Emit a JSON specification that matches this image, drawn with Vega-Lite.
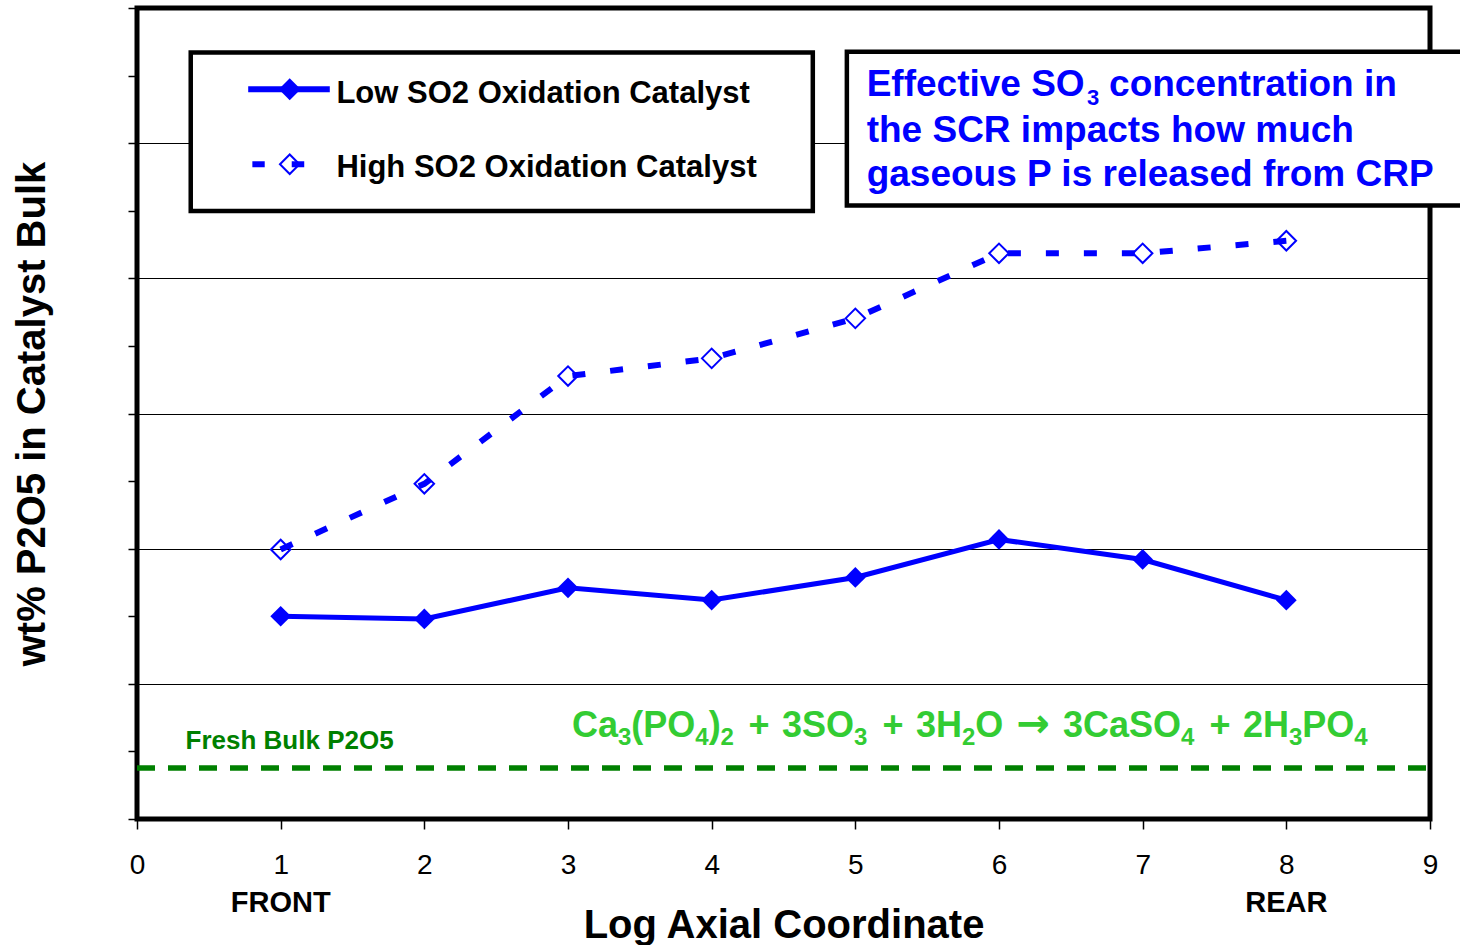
{
  "$schema": "https://vega.github.io/schema/vega-lite/v6.json",
  "width": 1293,
  "height": 811,
  "autosize": {"type": "none"},
  "padding": {"left": 137, "top": 8, "right": 30, "bottom": 126},
  "background": "white",
  "config": {
    "font": "Liberation Sans",
    "view": {"stroke": "black", "strokeWidth": 5}
  },
  "datasets": {
    "low": [
      {"x": 1, "y": 1.50}, {"x": 2, "y": 1.48}, {"x": 3, "y": 1.71}, {"x": 4, "y": 1.62},
      {"x": 5, "y": 1.787}, {"x": 6, "y": 2.068}, {"x": 7, "y": 1.92}, {"x": 8, "y": 1.619}
    ],
    "high": [
      {"x": 1, "y": 1.994}, {"x": 2, "y": 2.48}, {"x": 3, "y": 3.277}, {"x": 4, "y": 3.408},
      {"x": 5, "y": 3.704}, {"x": 6, "y": 4.185}, {"x": 7, "y": 4.185}, {"x": 8, "y": 4.278}
    ],
    "fresh": [{"x": 0, "x2": 9, "y": 0.377}],
    "boxes": [
      {"x": 0.374, "x2": 4.704, "y": 5.671, "y2": 4.498},
      {"x": 4.941, "x2": 9.3, "y": 5.677, "y2": 4.539}
    ],
    "legLow": [{"x": 0.774, "x2": 1.342, "y": 5.399}],
    "legHigh": [{"x": 0.803, "x2": 0.889, "y": 4.844}, {"x": 1.077, "x2": 1.164, "y": 4.844}],
    "legLowPt": [{"x": 1.063, "y": 5.399}],
    "legHighPt": [{"x": 1.063, "y": 4.844}],
    "legText": [
      {"x": 1.388, "y": 5.298, "text": "Low SO2 Oxidation Catalyst"},
      {"x": 1.388, "y": 4.752, "text": "High SO2 Oxidation Catalyst"}
    ],
    "note": [
      {"x": 5.079, "y": 5.352, "text": "Effective SO"},
      {"x": 6.766, "y": 5.352, "text": "concentration in"},
      {"x": 5.079, "y": 5.011, "text": "the SCR impacts how much"},
      {"x": 5.079, "y": 4.682, "text": "gaseous P is released from CRP"}
    ],
    "noteSub": [{"x": 6.613, "y": 5.285, "text": "3"}],
    "eqMain": [
      {"x": 3.028, "y": 0.609, "text": "Ca"},
      {"x": 3.441, "y": 0.609, "text": "(PO"},
      {"x": 3.979, "y": 0.609, "text": ")"},
      {"x": 4.256, "y": 0.609, "text": "+"},
      {"x": 4.490, "y": 0.609, "text": "3SO"},
      {"x": 5.189, "y": 0.609, "text": "+"},
      {"x": 5.422, "y": 0.609, "text": "3H"},
      {"x": 5.835, "y": 0.609, "text": "O"},
      {"x": 6.445, "y": 0.609, "text": "3CaSO"},
      {"x": 7.465, "y": 0.609, "text": "+"},
      {"x": 7.698, "y": 0.609, "text": "2H"},
      {"x": 8.111, "y": 0.609, "text": "PO"}
    ],
    "eqArrow": [{"x": 6.122, "y": 0.609, "text": "→"}],
    "eqSub": [
      {"x": 3.348, "y": 0.544, "text": "3"},
      {"x": 3.886, "y": 0.544, "text": "4"},
      {"x": 4.062, "y": 0.544, "text": "2"},
      {"x": 4.991, "y": 0.544, "text": "3"},
      {"x": 5.742, "y": 0.544, "text": "2"},
      {"x": 7.267, "y": 0.544, "text": "4"},
      {"x": 8.019, "y": 0.544, "text": "3"},
      {"x": 8.473, "y": 0.544, "text": "4"}
    ],
    "freshText": [{"x": 0.338, "y": 0.516, "text": "Fresh Bulk P2O5"}],
    "ends": [
      {"x": 1, "y": -0.688, "text": "FRONT"},
      {"x": 8, "y": -0.688, "text": "REAR"}
    ]
  },
  "encoding": {
    "x": {
      "field": "x", "type": "quantitative",
      "scale": {"domain": [0, 9], "nice": false, "zero": false},
      "axis": {
        "values": [0, 1, 2, 3, 4, 5, 6, 7, 8, 9],
        "domain": false, "grid": false,
        "ticks": true, "tickSize": 10, "tickColor": "black", "tickWidth": 1.5,
        "labelFontSize": 28, "labelColor": "black", "labelPadding": 22,
        "labelFlush": false, "labelOverlap": false,
        "title": "Log Axial Coordinate", "titleFontSize": 40, "titleFontWeight": "bold",
        "titleColor": "black", "titlePadding": 26
      }
    },
    "y": {
      "field": "y", "type": "quantitative",
      "scale": {"domain": [0, 6], "nice": false, "zero": false},
      "axis": {
        "values": [0, 0.5, 1, 1.5, 2, 2.5, 3, 3.5, 4, 4.5, 5, 5.5, 6],
        "labels": false, "domain": false,
        "ticks": true, "tickSize": 9, "tickColor": "black", "tickWidth": 1.5,
        "grid": true, "gridColor": "black", "gridWidth": 1,
        "gridOpacity": {"condition": {"test": "datum.value % 1 === 0 && datum.value > 0 && datum.value < 6", "value": 1}, "value": 0},
        "title": "wt% P2O5 in Catalyst Bulk", "titleFontSize": 40, "titleFontWeight": "bold",
        "titleColor": "black", "titlePadding": 75
      }
    }
  },
  "layer": [
    {
      "data": {"name": "fresh"},
      "mark": {"type": "rule", "color": "#008000", "strokeWidth": 5.5, "strokeDash": [18, 13]},
      "encoding": {"x2": {"field": "x2"}}
    },
    {
      "data": {"name": "high"},
      "mark": {"type": "line", "color": "#0000FF", "strokeWidth": 6, "strokeDash": [13, 25]},
      "encoding": {}
    },
    {
      "data": {"name": "low"},
      "mark": {"type": "line", "color": "#0000FF", "strokeWidth": 5},
      "encoding": {}
    },
    {
      "data": {"name": "high"},
      "mark": {"type": "point", "shape": "diamond", "filled": false, "color": "#0000FF", "strokeWidth": 2, "size": 380, "opacity": 1},
      "encoding": {}
    },
    {
      "data": {"name": "low"},
      "mark": {"type": "point", "shape": "diamond", "filled": true, "color": "#0000FF", "size": 430, "opacity": 1},
      "encoding": {}
    },
    {
      "data": {"name": "boxes"},
      "mark": {"type": "rect", "fill": "white", "stroke": "black", "strokeWidth": 4.5},
      "encoding": {"x2": {"field": "x2"}, "y2": {"field": "y2"}}
    },
    {
      "data": {"name": "legLow"},
      "mark": {"type": "rule", "color": "#0000FF", "strokeWidth": 6},
      "encoding": {"x2": {"field": "x2"}}
    },
    {
      "data": {"name": "legLowPt"},
      "mark": {"type": "point", "shape": "diamond", "filled": true, "color": "#0000FF", "size": 480, "opacity": 1},
      "encoding": {}
    },
    {
      "data": {"name": "legHighPt"},
      "mark": {"type": "point", "shape": "diamond", "filled": false, "color": "#0000FF", "strokeWidth": 2, "size": 380, "opacity": 1},
      "encoding": {}
    },
    {
      "data": {"name": "legHigh"},
      "mark": {"type": "rule", "color": "#0000FF", "strokeWidth": 6},
      "encoding": {"x2": {"field": "x2"}}
    },
    {
      "data": {"name": "legText"},
      "mark": {"type": "text", "align": "left", "baseline": "alphabetic", "fontSize": 31, "fontWeight": "bold", "color": "black"},
      "encoding": {"text": {"field": "text"}}
    },
    {
      "data": {"name": "note"},
      "mark": {"type": "text", "align": "left", "baseline": "alphabetic", "fontSize": 37, "fontWeight": "bold", "color": "#0000FF"},
      "encoding": {"text": {"field": "text"}}
    },
    {
      "data": {"name": "noteSub"},
      "mark": {"type": "text", "align": "left", "baseline": "alphabetic", "fontSize": 22, "fontWeight": "bold", "color": "#0000FF"},
      "encoding": {"text": {"field": "text"}}
    },
    {
      "data": {"name": "eqMain"},
      "mark": {"type": "text", "align": "left", "baseline": "alphabetic", "fontSize": 36, "fontWeight": "bold", "color": "#33CC33"},
      "encoding": {"text": {"field": "text"}}
    },
    {
      "data": {"name": "eqArrow"},
      "mark": {"type": "text", "align": "left", "baseline": "alphabetic", "font": "DejaVu Sans", "fontSize": 40, "fontWeight": "bold", "color": "#33CC33"},
      "encoding": {"text": {"field": "text"}}
    },
    {
      "data": {"name": "eqSub"},
      "mark": {"type": "text", "align": "left", "baseline": "alphabetic", "fontSize": 24, "fontWeight": "bold", "color": "#33CC33"},
      "encoding": {"text": {"field": "text"}}
    },
    {
      "data": {"name": "freshText"},
      "mark": {"type": "text", "align": "left", "baseline": "alphabetic", "fontSize": 26, "fontWeight": "bold", "color": "#008000"},
      "encoding": {"text": {"field": "text"}}
    },
    {
      "data": {"name": "ends"},
      "mark": {"type": "text", "align": "center", "baseline": "alphabetic", "fontSize": 29, "fontWeight": "bold", "color": "black"},
      "encoding": {"text": {"field": "text"}}
    }
  ]
}
